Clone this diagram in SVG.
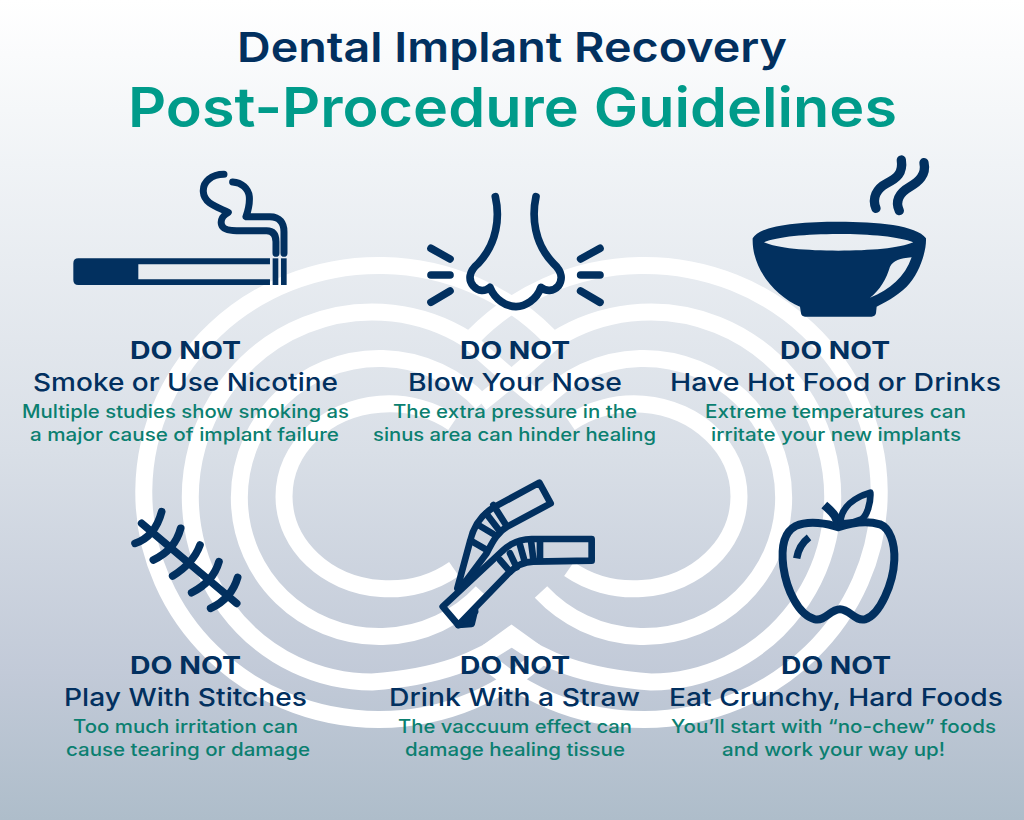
<svg xmlns="http://www.w3.org/2000/svg" xmlns:xlink="http://www.w3.org/1999/xlink" width="1024" height="820" viewBox="0 0 1024 820">
<style>
text{font-family:"Inter","Liberation Sans",sans-serif}
.t1{font-size:41px;font-weight:600;fill:#02305f}
.t2{font-size:55px;font-weight:600;fill:#009b8a}
.dn{font-size:24px;font-weight:700;fill:#02305f}
.hd{font-size:24.5px;font-weight:500;fill:#02305f}
.ds{font-size:18px;font-weight:500;fill:#0b7f70}
.ring{fill:none;stroke:#fff;stroke-width:17}
.ln{fill:none;stroke:#02305f;stroke-linecap:round;stroke-linejoin:round}
.sol{fill:#02305f}
</style>
<defs>
<linearGradient id="bg" x1="0" y1="0" x2="0" y2="1">
<stop offset="0" stop-color="#ffffff"/>
<stop offset="0.2" stop-color="#f0f3f6"/>
<stop offset="0.55" stop-color="#d9dfe7"/>
<stop offset="0.82" stop-color="#c2cad8"/>
<stop offset="1" stop-color="#aebdca"/>
</linearGradient>
<g id="half">
<path class="ring" d="M453 423A105 92.500 0 1 0 454 569"/>
<path class="ring" d="M482 403A140 139 0 1 0 482 592"/>
<path class="ring" d="M512 637C480 660 440 677 372 682A182 185 0 1 1 467 339C490 360 515 382 542 403"/>
<path class="ring" d="M549 336A235 227 0 1 0 546 652"/>
</g>
</defs>
<rect width="1024" height="820" fill="url(#bg)"/>
<g id="rings">
<use xlink:href="#half" href="#half"/>
<use xlink:href="#half" href="#half" transform="translate(1023 0) scale(-1 1)"/>
<path class="ring" stroke-miterlimit="6" d="M488 652L511.500 635L535 652"/>
</g>
<g id="title">
<text class="t1" x="237" y="62" textLength="550" lengthAdjust="spacingAndGlyphs">Dental Implant Recovery</text>
<text class="t2" x="128" y="127" textLength="769" lengthAdjust="spacingAndGlyphs">Post-Procedure Guidelines</text>
</g>
<g id="smoke">
<g transform="translate(60 150) scale(.3333)">
<path class="sol" fill-rule="evenodd" d="M630 325H55Q40 325 40 340V390Q40 405 55 405H630V388H235V343H630Z"/>
<rect class="sol" x="638" y="325" width="17" height="80"/>
<rect class="sol" x="663" y="325" width="17" height="80"/>
<path class="ln" stroke-width="21" d="M492 73C455 73 428 95 430 125C432 160 470 170 505 187C490 195 480 210 485 225C490 240 510 242 530 242L620 242C640 242 648 255 648 275L648 310"/>
<path class="ln" stroke-width="21" d="M518 96C545 98 565 115 568 140C570 165 565 180 558 200L630 200C660 200 672 220 672 245L672 310"/>
</g>
<text class="dn" x="130" y="359" textLength="111" lengthAdjust="spacingAndGlyphs">DO NOT</text>
<text class="hd" x="33" y="391" textLength="305" lengthAdjust="spacingAndGlyphs">Smoke or Use Nicotine</text>
<text class="ds" x="22" y="418" textLength="327" lengthAdjust="spacingAndGlyphs">Multiple studies show smoking as</text>
<text class="ds" x="30" y="441" textLength="309" lengthAdjust="spacingAndGlyphs">a major cause of implant failure</text>
</g>
<g id="nose">
<g transform="translate(410 180) scale(.3333)" class="ln" stroke-width="23">
<path d="M256 50C270 110 262 190 205 250C175 275 175 300 190 318C205 335 225 335 240 322C255 360 290 380 318 380C345 380 380 360 393 322C408 335 430 335 445 318C458 300 458 275 430 250C372 190 365 110 378 50"/>
<path d="M63 205L120 237M63 285L120 285M63 367L120 333M570 205L512 237M512 285L570 285M512 333L570 367"/>
</g>
<text class="dn" x="460" y="359" textLength="110" lengthAdjust="spacingAndGlyphs">DO NOT</text>
<text class="hd" x="408" y="391" textLength="214" lengthAdjust="spacingAndGlyphs">Blow Your Nose</text>
<text class="ds" x="393" y="418" textLength="244" lengthAdjust="spacingAndGlyphs">The extra pressure in the</text>
<text class="ds" x="373" y="441" textLength="283" lengthAdjust="spacingAndGlyphs">sinus area can hinder healing</text>
</g>
<g id="bowl">
<g transform="translate(740 150) scale(.3333)">
<path class="sol" fill-rule="evenodd" d="M38 265C60 225 180 215 295 215C410 215 530 225 558 265C560 300 540 370 500 410C470 440 430 460 410 470L408 490Q405 500 395 500L195 500Q185 500 183 490L180 470C110 440 35 360 38 265ZM72 277C110 295 200 302 295 302C390 302 480 295 520 277C480 260 390 252 295 252C200 252 110 260 72 277ZM515 322C480 325 460 332 450 350C440 385 420 420 390 443C450 420 495 380 515 322Z"/>
<path class="ln" stroke-width="28" d="M484 30C490 70 470 85 440 100C410 115 395 145 408 175"/>
<path class="ln" stroke-width="28" d="M552 38C560 75 535 95 510 110C475 130 465 155 478 182"/>
</g>
<text class="dn" x="780" y="359" textLength="110" lengthAdjust="spacingAndGlyphs">DO NOT</text>
<text class="hd" x="670" y="391" textLength="331" lengthAdjust="spacingAndGlyphs">Have Hot Food or Drinks</text>
<text class="ds" x="705" y="418" textLength="261" lengthAdjust="spacingAndGlyphs">Extreme temperatures can</text>
<text class="ds" x="711" y="441" textLength="250" lengthAdjust="spacingAndGlyphs">irritate your new implants</text>
</g>
<g id="stitches">
<g transform="translate(120 500) scale(.3333)" class="ln" stroke-width="23">
<path d="M65 70L350 310"/>
<path d="M45 130Q105 110 125 35M100 180Q165 150 182 85M158 228Q220 190 240 135M215 278Q280 245 297 185M272 325Q335 295 353 232"/>
</g>
<text class="dn" x="130" y="674" textLength="111" lengthAdjust="spacingAndGlyphs">DO NOT</text>
<text class="hd" x="64" y="706" textLength="243" lengthAdjust="spacingAndGlyphs">Play With Stitches</text>
<text class="ds" x="73" y="733" textLength="225" lengthAdjust="spacingAndGlyphs">Too much irritation can</text>
<text class="ds" x="66" y="756" textLength="244" lengthAdjust="spacingAndGlyphs">cause tearing or damage</text>
</g>
<g id="straw">
<g transform="translate(430 470) scale(.3333)" class="ln" stroke-width="20">
<path d="M195 110L328 38L362 100L232 170C205 185 190 210 170 250L95 350M195 110C150 135 130 170 120 215L82 355M135 420L125 462L85 465"/>
<path d="M485 207L485 272L310 275C280 275 255 290 235 310L85 465L38 410L215 245C240 220 270 207 305 207Z"/>
<path d="M190 105L228 165M168 130L205 178M145 165L190 192M122 212L170 240M330 210L330 270M303 212L310 268M270 225L285 278M240 250L260 292M210 270L240 305M108 450L135 425"/>
</g>
<text class="dn" x="460" y="674" textLength="110" lengthAdjust="spacingAndGlyphs">DO NOT</text>
<text class="hd" x="389" y="706" textLength="251" lengthAdjust="spacingAndGlyphs">Drink With a Straw</text>
<text class="ds" x="398" y="733" textLength="234" lengthAdjust="spacingAndGlyphs">The vaccuum effect can</text>
<text class="ds" x="405" y="756" textLength="220" lengthAdjust="spacingAndGlyphs">damage healing tissue</text>
</g>
<g id="apple">
<g transform="translate(765 480) scale(.3333)" class="ln" stroke-width="24">
<path d="M220 142C190 130 130 120 92 138C50 160 50 220 55 260C65 330 100 405 150 418C180 425 195 388 225 388C255 388 270 425 300 418C345 405 385 310 388 240C390 190 375 145 345 133C300 120 255 130 220 142Z"/>
<path stroke-width="26" stroke-linecap="butt" d="M178 75C200 95 220 110 220 145"/>
<path stroke-width="20" d="M226 128C228 80 270 52 316 38C318 70 305 108 290 118C265 130 240 130 226 128Z"/>
<path stroke-width="22" stroke-linecap="butt" d="M132 172C115 185 100 205 95 235"/>
</g>
<text class="dn" x="781" y="674" textLength="110" lengthAdjust="spacingAndGlyphs">DO NOT</text>
<text class="hd" x="669" y="706" textLength="334" lengthAdjust="spacingAndGlyphs">Eat Crunchy, Hard Foods</text>
<text class="ds" x="671" y="733" textLength="325" lengthAdjust="spacingAndGlyphs">You’ll start with “no-chew” foods</text>
<text class="ds" x="722" y="756" textLength="223" lengthAdjust="spacingAndGlyphs">and work your way up!</text>
</g>
</svg>
